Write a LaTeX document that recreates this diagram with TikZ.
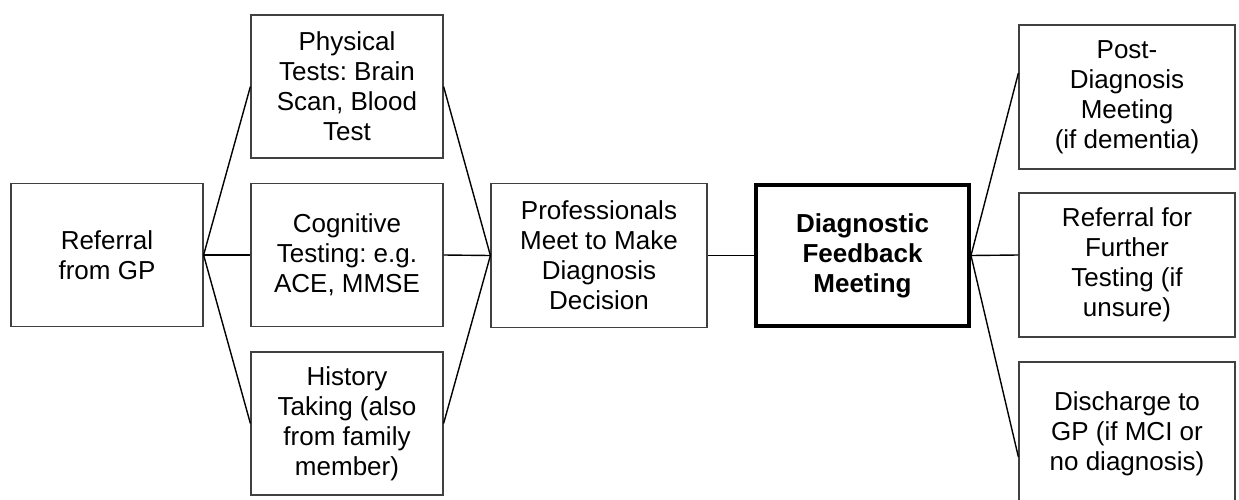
\documentclass[tikz,border=0pt]{standalone}
\usepackage{fontspec}
\setmainfont{Liberation Sans}
\usetikzlibrary{positioning}
\frenchspacing

\begin{document}
\begin{tikzpicture}[x=0.5pt, y=-0.5pt, font=\fontsize{13}{15}\selectfont,
		box/.style={draw=black!75, line width=0.6pt, rectangle, align=center,
			minimum width=96pt, minimum height=71.5pt, inner sep=2pt},
		wide/.style={box, minimum width=108pt, minimum height=72pt},
		link/.style={black, line width=0.7pt}]
		
		\useasboundingbox (0,0) rectangle (1239,499);
		
		% Nodes
		\node[box] (referral) at (107,255) {Referral\\from GP};
		
		\node[box] (physical) at (347,86.5) {Physical\\Tests: Brain\\Scan, Blood\\Test};
		\node[box] (cognitive) at (347,255) {Cognitive\\Testing: e.g.\\ACE, MMSE};
		\node[box] (history) at (347,423.5) {History\\Taking (also\\from family\\member)};
		
		\node[wide] (meet) at (599,255.5) {Professionals\\Meet to Make\\Diagnosis\\Decision};
		
		\node[wide, draw=black, line width=2pt, minimum width=106.5pt, minimum height=70.5pt, font=\fontsize{13}{15}\selectfont\bfseries]
			(feedback) at (862.5,255.5) {Diagnostic\\Feedback\\Meeting};
		
		\node[wide] (post) at (1127,97) {Post-\\Diagnosis\\Meeting\\(if dementia)};
		\node[wide] (further) at (1127,265) {Referral for\\Further\\Testing (if\\unsure)};
		\node[wide] (discharge) at (1127,434) {Discharge to\\GP (if MCI or\\no diagnosis)};
		
		% Lines
		\draw[link] (referral.east) -- (physical.west);
		\draw[link] (referral.east) -- (cognitive.west);
		\draw[link] (referral.east) -- (history.west);
		
		\draw[link] (physical.east) -- (meet.west);
		\draw[link] (cognitive.east) -- (meet.west);
		\draw[link] (history.east) -- (meet.west);
		
		\draw[link] (meet.east) -- (feedback.west);
		
		\draw[link] (feedback.east) -- ([yshift=12pt]post.west);
		\draw[link] (feedback.east) -- ([yshift=5pt]further.west);
		\draw[link] (feedback.east) -- ([yshift=-11.5pt]discharge.west);
		
\end{tikzpicture}
\end{document}
